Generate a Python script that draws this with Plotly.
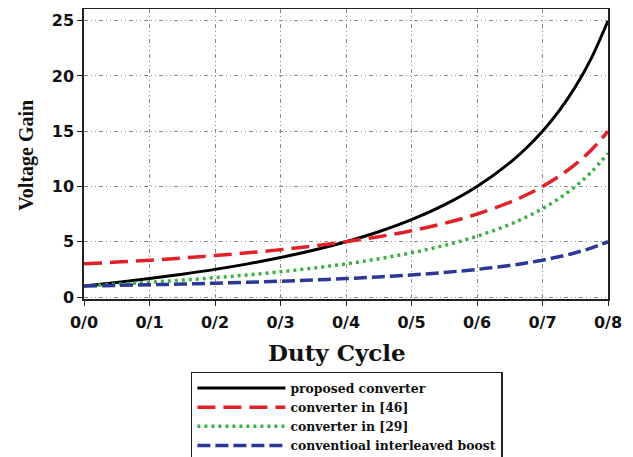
import plotly.graph_objects as go

duty = [0, 0.05, 0.1, 0.15, 0.2, 0.25, 0.3, 0.35, 0.4, 0.45, 0.5, 0.55, 0.6, 0.65, 0.675, 0.7, 0.725, 0.75, 0.775, 0.8]
proposed = [1, 1.316, 1.667, 2.059, 2.5, 3.0, 3.571, 4.231, 5.0, 5.909, 7.0, 8.333, 10.0, 12.143, 13.462, 15.0, 16.818, 19.0, 21.667, 25.0]
conv46 = [3, 3.158, 3.333, 3.529, 3.75, 4.0, 4.286, 4.615, 5.0, 5.455, 6.0, 6.667, 7.5, 8.571, 9.231, 10.0, 10.909, 12.0, 13.333, 15.0]
conv29 = [1, 1.158, 1.333, 1.529, 1.75, 2.0, 2.286, 2.615, 3.0, 3.455, 4.0, 4.667, 5.5, 6.571, 7.231, 8.0, 8.909, 10.0, 11.333, 13.0]
interleaved = [1, 1.053, 1.111, 1.176, 1.25, 1.333, 1.429, 1.538, 1.667, 1.818, 2.0, 2.222, 2.5, 2.857, 3.077, 3.333, 3.636, 4.0, 4.444, 5.0]

x_tickvals = [0, 0.1, 0.2, 0.3, 0.4, 0.5, 0.6, 0.7, 0.8]
x_ticktext = ["0/0", "0/1", "0/2", "0/3", "0/4", "0/5", "0/6", "0/7", "0/8"]
y_tickvals = [0, 5, 10, 15, 20, 25]

names = ["proposed converter", "converter in [46]", "converter in [29]", "conventioal interleaved boost"]
x_title = "Duty Cycle"
y_title = "Voltage Gain"

fig = go.Figure()
fig.add_trace(go.Scatter(x=duty, y=proposed, name=names[0], mode="lines",
                         line=dict(color="#000000", width=3, shape="spline")))
fig.add_trace(go.Scatter(x=duty, y=conv46, name=names[1], mode="lines",
                         line=dict(color="#e02228", width=3.5, dash="18px,8px", shape="spline")))
fig.add_trace(go.Scatter(x=duty, y=conv29, name=names[2], mode="lines",
                         line=dict(color="#3cb043", width=3.5, dash="3px,4px", shape="spline")))
fig.add_trace(go.Scatter(x=duty, y=interleaved, name=names[3], mode="lines",
                         line=dict(color="#2b3896", width=3.5, dash="13px,5px", shape="spline")))

grid_dash = "4px,3px,1px,3px,1px,3px"
fig.update_xaxes(range=[0, 0.8], tickvals=x_tickvals, ticktext=x_ticktext,
                 showline=True, linecolor="#222", linewidth=1.5, mirror=True,
                 ticks="outside", ticklen=5, tickcolor="#222", ticklabelstandoff=3,
                 showgrid=True, gridcolor="#8a8a8a", gridwidth=1, griddash=grid_dash,
                 zeroline=False, automargin=False,
                 tickfont=dict(family="DejaVu Sans", size=16, color="#111", weight="bold"))
fig.update_yaxes(range=[-0.18, 26.06], tickvals=y_tickvals,
                 showline=True, linecolor="#222", linewidth=1.5, mirror=True,
                 ticks="outside", ticklen=5, tickcolor="#222", ticklabelstandoff=0,
                 showgrid=True, gridcolor="#8a8a8a", gridwidth=1, griddash=grid_dash,
                 zeroline=False, automargin=False,
                 tickfont=dict(family="DejaVu Sans", size=16, color="#111", weight="bold"))

fig.add_annotation(text=x_title, xref="paper", yref="paper", x=0.483, y=-0.183,
                   xanchor="center", yanchor="middle", showarrow=False,
                   font=dict(family="DejaVu Serif", size=23, color="#111", weight="bold"))
fig.add_annotation(text=y_title, xref="paper", yref="paper", x=-0.109, y=0.497,
                   xanchor="center", yanchor="middle", showarrow=False, textangle=-90,
                   font=dict(family="Liberation Serif", size=20, color="#111", weight="bold"))

# the page body has an 8px default margin, so the figure is sized to fit the window
fig.update_layout(
    width=625, height=449,
    margin=dict(l=76, r=25, t=1, b=158, autoexpand=False),
    paper_bgcolor="white", plot_bgcolor="white",
    showlegend=True,
    legend=dict(x=0.204, y=-0.2517, xanchor="left", yanchor="top",
                bordercolor="#222", borderwidth=1.5, bgcolor="white",
                itemwidth=88, tracegroupgap=0,
                font=dict(family="DejaVu Serif", size=12.4, color="#111", weight="bold")),
)

fig.write_html("out.html")
